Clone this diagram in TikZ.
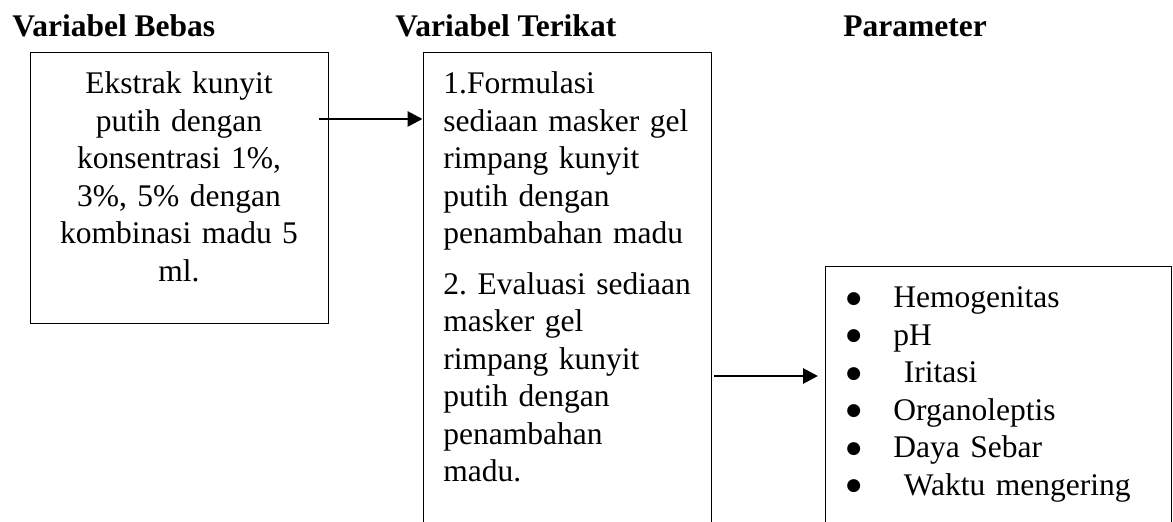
\documentclass[tikz,border=0pt]{standalone}
\usepackage{fontspec}
\setmainfont{Liberation Serif}
\newfontfamily\bulfont{DejaVu Sans}
\usetikzlibrary{arrows.meta}
\newcommand{\bigbul}{\raisebox{2.3pt}{\bulfont\fontsize{8.5}{8.5}\selectfont ●}}
\frenchspacing
\begin{document}
\begin{tikzpicture}[x=0.5pt,y=-0.5pt,
  boxline/.style={draw=black, line width=0.7pt, inner sep=0pt, anchor=north west},
  txt/.style={inner sep=0pt, font=\fontsize{15.75}{18.75}\selectfont},
  head/.style={inner sep=0pt, font=\fontsize{15.75}{18.75}\selectfont\bfseries, anchor=base west},
  arr/.style={line width=1.4pt, -{Triangle[length=7.5pt,width=7.5pt]}}]
\useasboundingbox (0,0) rectangle (1173,522);
\clip (0,0) rectangle (1173,522);
% headers
\node[head] (h1) at (12,37) {Variabel Bebas};
\node[head] (h2) at (395,37) {Variabel Terikat};
\node[head] (h3) at (843,37) {Parameter};
% boxes
\node[boxline, minimum width=149pt, minimum height=135.5pt] (bebas) at (30,52) {};
\node[boxline, minimum width=144pt, minimum height=254pt] (terikat) at (422.5,52) {};
\node[boxline, minimum width=173pt, minimum height=147pt] (param) at (825,266) {};
% texts
\node[txt, text width=140pt, align=center, anchor=base] (t1) at (179,94)
  {Ekstrak kunyit\\putih dengan\\konsentrasi 1\%,\\3\%, 5\% dengan\\kombinasi madu 5\\ml.};
\node[txt, text width=140pt, align=left, anchor=base west] (t2) at (443,94)
  {1.Formulasi\\sediaan masker gel\\rimpang kunyit\\putih dengan\\penambahan madu\\[6.5pt]2. Evaluasi sediaan\\masker gel\\rimpang kunyit\\putih dengan\\penambahan\\madu.};
\node[txt, text width=170pt, align=left, anchor=base west] (t3) at (846,308)
  {\makebox[23.5pt][l]{\bigbul}Hemogenitas\\
   \makebox[23.5pt][l]{\bigbul}pH\\
   \makebox[23.5pt][l]{\bigbul}\ Iritasi\\
   \makebox[23.5pt][l]{\bigbul}Organoleptis\\
   \makebox[23.5pt][l]{\bigbul}Daya Sebar\\
   \makebox[23.5pt][l]{\bigbul}\ Waktu mengering};
% arrows
\coordinate (s1) at (319,119);
\draw[arr] (s1) -- (s1 -| terikat.west);
\coordinate (s2) at (714,376);
\draw[arr, shorten >=3.5pt] (s2) -- (s2 -| param.west);
\end{tikzpicture}
\end{document}
